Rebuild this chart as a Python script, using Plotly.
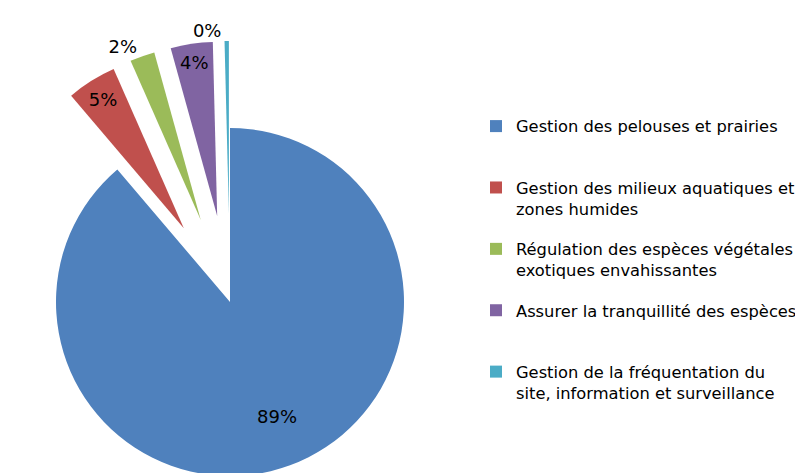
import math
import plotly.graph_objects as go

# ---- data ----
LABELS = [
    "Gestion des pelouses et prairies",
    "Gestion des milieux aquatiques et<br>zones humides",
    "Régulation des espèces végétales<br>exotiques envahissantes",
    "Assurer la tranquillité des espèces",
    "Gestion de la fréquentation du<br>site, information et surveillance",
]
VALUES = [88.7, 4.6, 2.3, 3.9, 0.4]
COLORS = ["#4F81BD", "#C0504D", "#9BBB59", "#8064A2", "#4BACC6"]
TEXT_POS = ["annotation", "inside", "outside", "inside", "outside"]
EXPLODED = [False, True, True, True, True]

# ---- layout constants (paper pixels) ----
W, H = 803, 473
CX, CY, R = 222, 294, 174      # pie centre / radius
EXPLODE = 0.5                  # explosion as fraction of radius
LABEL_R = 0.78                 # radial position of annotated labels
FONT = "DejaVu Sans"
TRANSPARENT = "rgba(0,0,0,0)"

total = sum(VALUES)
fig = go.Figure()
annotations = []

cum = 0.0
for i, v in enumerate(VALUES):
    mid = (cum + v / 2) / total * 2 * math.pi
    cum += v
    d = EXPLODE * R if EXPLODED[i] else 0.0
    cx = CX + d * math.sin(mid)
    cy = CY - d * math.cos(mid)
    dx = [max(0.0, (cx - R) / W), min(1.0, (cx + R) / W)]
    dy = [max(0.0, 1 - (cy + R) / H), min(1.0, 1 - (cy - R) / H)]
    colors = [COLORS[j] if j == i else TRANSPARENT for j in range(len(VALUES))]
    use_annot = TEXT_POS[i] == "annotation"
    tmpl = ["%{percent:.0%}" if (j == i and not use_annot) else "" for j in range(len(VALUES))]
    tpos = [TEXT_POS[i] if (j == i and not use_annot) else "none" for j in range(len(VALUES))]
    fig.add_trace(go.Pie(
        labels=LABELS, values=VALUES, sort=False, direction="clockwise",
        rotation=0, domain=dict(x=dx, y=dy),
        marker=dict(colors=colors, line=dict(width=0)),
        texttemplate=tmpl, textposition=tpos,
        insidetextorientation="horizontal",
        insidetextfont=dict(family=FONT, size=18, color="black"),
        outsidetextfont=dict(family=FONT, size=18, color="black"),
        showlegend=False, hoverinfo="label+percent",
    ))
    if use_annot:
        ax = cx + LABEL_R * R * math.sin(mid)
        ay = cy - LABEL_R * R * math.cos(mid)
        annotations.append(dict(
            x=ax / W, y=1 - ay / H, xref="paper", yref="paper",
            text=f"{round(100 * v / total)}%", showarrow=False,
            font=dict(family=FONT, size=18, color="black"),
        ))

# legend entries
for i, lab in enumerate(LABELS):
    name = lab if "<br>" in lab else lab + "<br> "
    fig.add_trace(go.Scatter(
        x=[None], y=[None], mode="markers", name=name,
        legendgroup=f"g{i}",
        marker=dict(symbol="square", size=12, color=COLORS[i]),
    ))

fig.update_layout(
    width=W, height=H,
    margin=dict(l=0, r=0, t=0, b=0, autoexpand=False),
    paper_bgcolor="white", plot_bgcolor="white",
    xaxis=dict(visible=False), yaxis=dict(visible=False),
    annotations=annotations,
    legend=dict(
        x=468 / W, xanchor="left", y=1 - 101 / H, yanchor="top",
        valign="top", tracegroupgap=16,
        font=dict(family=FONT, size=16.3, color="black"),
        bgcolor="rgba(0,0,0,0)",
    ),
)

fig.write_html("out.html")
